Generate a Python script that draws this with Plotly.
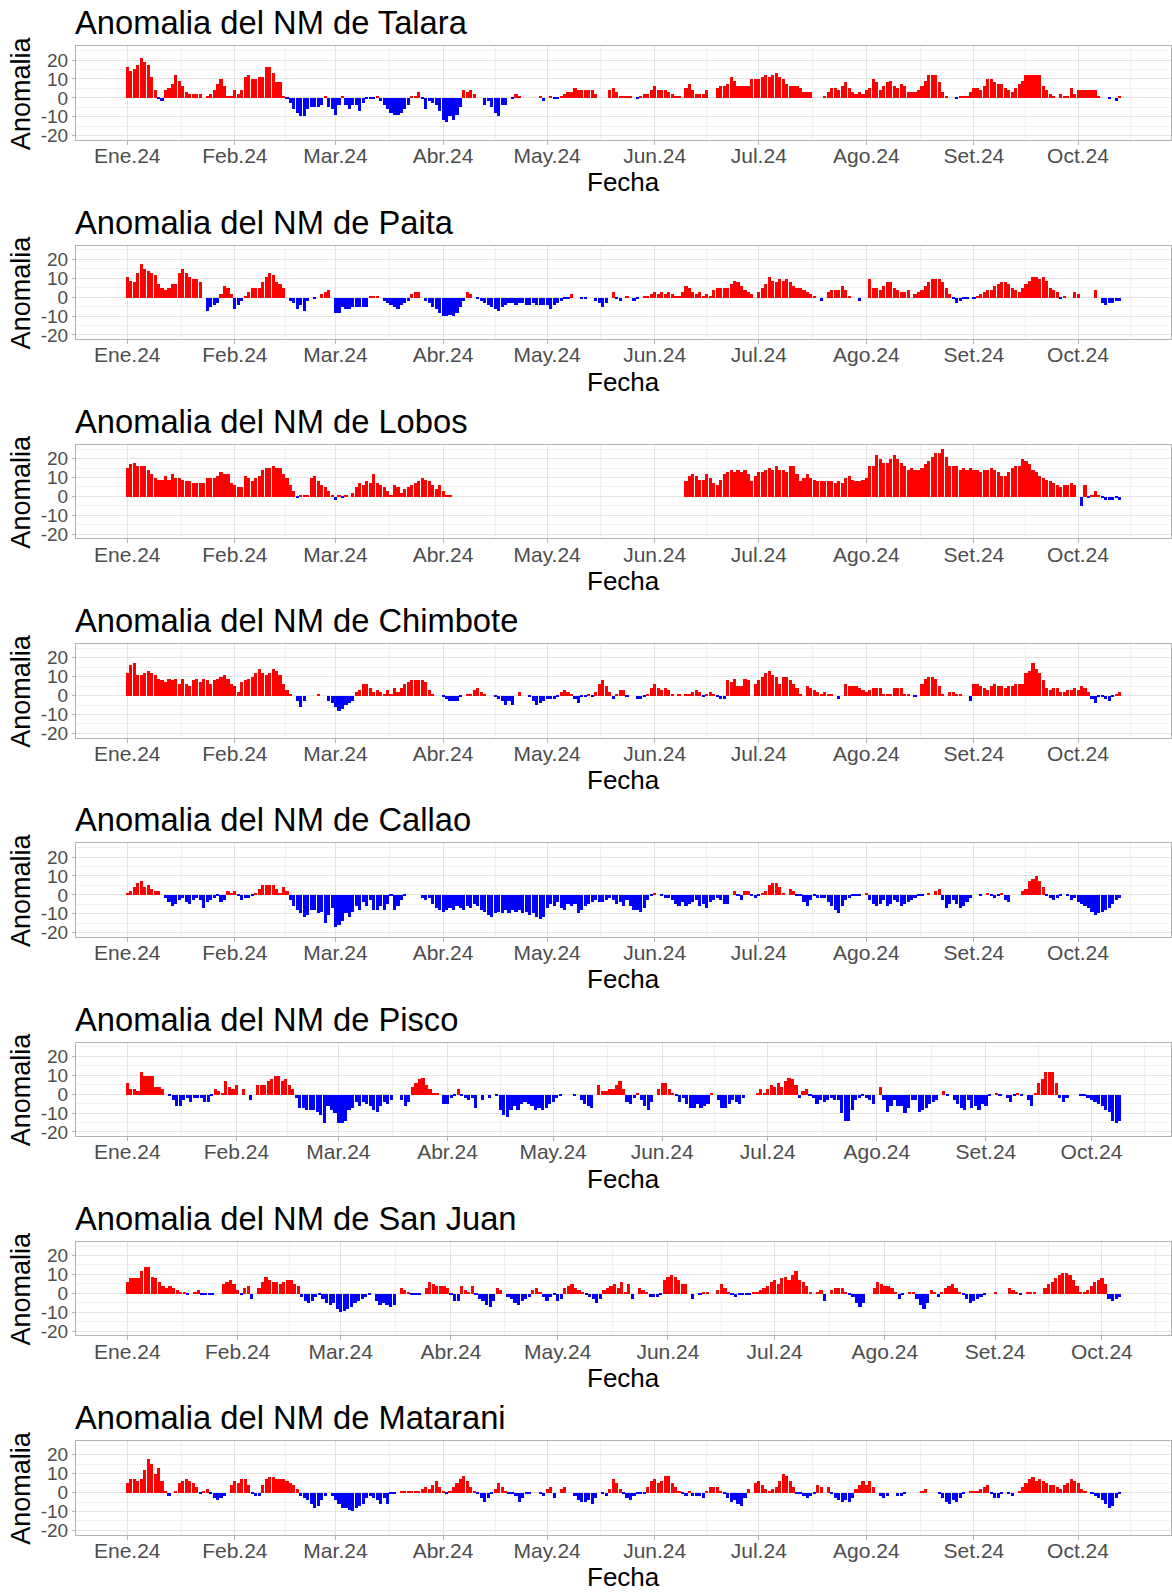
import plotly.graph_objects as go
import pandas as pd

# ---------------- data (daily sea-level anomaly, cm) ----------------
START = "2024-01-01"
stations = ["Talara", "Paita", "Lobos", "Chimbote", "Callao", "Pisco", "San Juan", "Matarani"]
n_days = [287, 287, 287, 287, 287, 283, 280, 287]
month_labels = ["Ene.24", "Feb.24", "Mar.24", "Abr.24", "May.24", "Jun.24",
                "Jul.24", "Ago.24", "Set.24", "Oct.24"]
month_starts = ["2024-01-01", "2024-02-01", "2024-03-01", "2024-04-01", "2024-05-01",
                "2024-06-01", "2024-07-01", "2024-08-01", "2024-09-01", "2024-10-01"]
y_ticks = [-20, -10, 0, 10, 20]
y_minor = [-15, -5, 5, 15, 25]
y_limits = [-20, 25]

# (first day index counted from 1 Jan 2024, consecutive daily values); gaps = missing days
talara = [
    (0, [16, 14, 15, 17, 21, 19, 17, 11, 4, -1, -2, 4, 5, 7, 12, 9, 6, 3, 2, 2, 2, 2]),
    (23, [1, 2, 4, 7, 10, 6, 1, 1, 4, 2, 4, 11, 12, 10, 10, 11, 11, 16, 16, 13, 8, 8, 1, -1, -3, -6, -8, -10, -10,
          -6, -5, -5, -5, -4, 1, -5, -6, -9, -4, 1, -4, -6, -4, -4, -7, -3, -1, -1, -1, 1, -2, -4, -6, -8, -9, -9,
          -8, -6, -4, 1, 1, 3, -1, -6, -2, -3, -4, -7, -12, -13, -10, -12, -9, -5, 4, 3, 4, 2]),
    (103, [-4, -2, -5, -8, -10, -4, -4]),
    (111, [-1, 2, 1]),
    (119, [1, -2]),
    (122, [1, -1, -1, 1, 2, 3, 3, 5, 4, 4, 4, 4, 4, 2]),
    (139, [4, 5, 3, 1, 1, 1, 1]),
    (147, [-1, 1, 2, 2, 4, 6, 4, 4, 4, 3, 2, 1, 1]),
    (161, [5, 7, 4, 2, 2, 2, 4]),
    (170, [5, 6, 6, 7, 11, 9, 6, 6, 6, 6, 10, 10, 10, 11, 12, 11, 12, 13, 11, 10, 7, 6, 6, 6, 5, 3, 3, 3]),
    (201, [1, 3, 5, 5, 4, 6, 8, 5, 3, 2, 3, 2, 4, 5, 10, 8, 4, 6, 8, 9, 6, 5, 7, 6, 3, 3, 3, 4, 6, 9, 12, 12, 12,
           8, 3, 1]),
    (239, [-1, 1, 1, 1, 3, 5, 5, 4, 6, 10, 10, 8, 7, 7, 5, 4, 3, 5, 7, 9, 12, 12, 12, 12, 12, 6, 4, 2, 1]),
    (269, [2, 1, 1, 5, 2, 4, 4, 4, 4, 4, 4, 1]),
    (283, [-1]),
    (285, [-2, 1]),
]
paita = [
    (0, [11, 9, 8, 13, 18, 15, 14, 13, 12, 7, 5, 4, 5, 7, 7, 13, 15, 13, 11, 10, 10, 8]),
    (23, [-7, -5, -4, -3, 2, 6, 5, 2, -6, -4, -2, 1, 3, 5, 5, 5, 8, 11, 13, 12, 8, 7, 5]),
    (47, [-2, -3, -6, -4, -7, -2]),
    (54, [-1]),
    (56, [2, 3, 4]),
    (60, [-8, -8, -5, -6, -6, -5, -5, -5, -5, -5, 1, 1, 1]),
    (74, [-2, -3, -4, -5, -6, -4, -3, -2, 2, 3, 3]),
    (86, [-2, -3, -5, -6, -8, -10, -10, -9, -10, -8, -5, -2, 3, 2]),
    (101, [-1, -2, -3, -4, -5, -6, -7, -5, -4, -3, -3, -4, -3, -3, -4, -4, -3, -4, -4, -4, -4, -6, -4, -3, -2,
           -1, -1, 2]),
    (131, [-1, -1]),
    (135, [-2, -3, -5, -3]),
    (140, [3, -1, -2]),
    (144, [1]),
    (146, [-2, -1]),
    (149, [1, 1, 2, 3, 2, 3, 2, 3, 2, 1, 1, 3, 6, 5, 3, 2, 3, 1, 2, 1, 4, 5, 5, 5, 5, 7, 9, 8, 6, 4, 3, 2]),
    (182, [3, 5, 7, 11, 9, 8, 10, 9, 10, 8, 6, 5, 5, 4, 3, 2, 1]),
    (200, [-2]),
    (202, [3, 4, 4, 4, 6, 4, 1]),
    (211, [-2]),
    (214, [10, 5, 5, 4, 6, 8, 8, 5, 4, 3, 3, 4]),
    (227, [2, 3, 4, 6, 8, 10, 10, 10, 8, 5, 2]),
    (238, [-1, -3, -2, -1, -1]),
    (244, [-1, 1, 2, 3, 4, 4, 6, 7, 8, 8, 7, 5, 4]),
    (257, [3, 5, 7, 9, 11, 11, 10, 11, 9, 5, 4, 3]),
    (269, [-1, 1]),
    (273, [3, 2]),
    (279, [4]),
    (281, [-3, -4, -3, -3, -2, -2]),
]
lobos = [
    (0, [15, 17, 18, 16, 16, 16, 14, 12, 10, 9, 9, 11, 9, 12, 10, 10, 9, 8, 8, 7, 7, 7, 7, 10, 10, 10, 11, 13, 12,
         12, 7, 6, 5, 5, 11, 10, 8, 10, 11, 14, 15, 15, 16, 15, 15, 12, 10, 6, 3, -1, 1, 1, 1, 10, 11, 8, 6, 5, 3,
         1, -2, 1, -1, 1]),
    (65, [2, 5, 7, 6, 8, 7, 12, 7, 6, 5, 3, 1, 6, 5, 2, 4, 5, 6, 7, 8, 10, 9, 8, 6, 4, 6, 3, 1, 1]),
    (161, [8, 11, 12, 11, 9, 9, 12, 10, 7, 6, 9, 12, 13, 14, 13, 14, 13, 14, 12, 8, 11, 13, 13, 14, 15, 14, 16,
           14, 14, 13, 16, 16, 12, 8, 10, 12, 10, 9, 8, 8, 8, 8, 8, 7, 8, 7, 10, 11, 9, 8, 8, 9, 10, 16, 16, 22,
           20, 18, 18, 20, 22, 20, 18, 16, 14, 15, 14, 14, 15, 17, 19, 21, 23, 23, 25, 21, 16, 16, 16, 14, 15,
           14, 15, 14, 14, 13, 14, 14, 15, 14, 13, 11, 11, 13, 15, 16, 16, 20, 19, 17, 14, 13, 11, 10, 9, 8, 7,
           6, 5, 6, 6, 7, 6]),
    (275, [-5, 6, -1, 1, 3, 1, -1, -2, -2, -2, -1, -2]),
]
chimbote = [
    (0, [12, 16, 17, 11, 11, 12, 13, 12, 11, 9, 8, 7, 9, 8, 9, 6, 9, 6, 5, 8, 9, 7, 9, 8, 6, 8, 9, 10, 11, 9, 6,
         5, 2, 7, 8, 9, 10, 12, 14, 12, 11, 12, 14, 13, 11, 6, 3, 1]),
    (49, [-3, -6, -3]),
    (55, [1]),
    (58, [-3, -4, -6, -8, -7, -5, -4, -3]),
    (66, [2, 3, 6, 6, 4, 2, 3, 2, 1, 3, 1, 4, 2]),
    (79, [4, 6, 7, 8, 8, 8, 8, 7, 3, 1]),
    (91, [-1, -2, -3, -3, -3, -1]),
    (98, [1, 1, 3, 4, 2, 1]),
    (106, [-1, -2, -3, -5, -3, -5]),
    (113, [2]),
    (116, [-1, -3, -5, -4, -3, -2, -2, -2, -1]),
    (125, [2, 3, 2, 1, -2, -4, -1, -1, 1, -1, 2, 6, 8, 5, 2, -2, 1, 3, 3, -1]),
    (147, [-2, -2, -1, 1, 4, 6, 4, 3, 4, 3, 1]),
    (159, [1]),
    (161, [1, 1, 2, 3, 2, -1, 1, 2, 1, -1, -2, -2, 8, 7, 9, 5, 5, 9, 8]),
    (181, [6, 8, 10, 12, 13, 11, 10, 6, 10, 10, 8, 6, 4, 1]),
    (196, [5, 4, 3, 2, 1, 2, 1, 1]),
    (205, [-2]),
    (207, [6, 5, 5, 5, 4, 3, 2, 3, 4, 4, 4, 1, 1, 1, 4, 4, 4, 1, 1]),
    (227, [-1]),
    (229, [6, 9, 10, 10, 9, 5, 1]),
    (237, [2, 2, 1, 1]),
    (243, [-3]),
    (244, [6, 6, 5, 4, 3, 5, 6, 5, 5, 4, 5, 5, 6, 6, 6, 12, 13, 17, 14, 12, 8, 4, 3, 4, 4, 2, 2, 3, 3, 4, 3, 5, 4,
           2, -2, -4, -1, -1, -2, -3, -1, 1, 2]),
]
callao = [
    (0, [1, 2, 4, 6, 7, 4, 5, 3, 2, 2]),
    (11, [-2, -4, -6, -5, -3, -2, -4, -5, -3, -2, -3, -7, -4, -3, -2, -1, -4, -3]),
    (29, [2, 1, 2, -1, -3, -2, -2, -1, 1, 3, 5, 5, 5, 5, 3, 1, 4, 2]),
    (47, [-3, -6, -8, -10, -12, -11, -8, -8, -10, -9, -15, -11, -7, -17, -16, -14, -10, -12, -9, -6, -8, -4, -6,
          -3, -8, -8, -6, -8, -5, -1, -8, -6, -3, -1]),
    (85, [-2, -3, -2, -5, -7, -8, -9, -8, -7, -8, -6, -7, -8, -6, -7, -5, -6, -8, -9, -11, -12, -10, -9, -10, -8,
          -10, -8, -9, -8, -10, -9, -11, -10, -12, -13, -12, -7, -5, -6, -4, -7, -8, -5, -6, -5, -10, -8, -6, -5,
          -4, -3, -4, -4, -3, -2, -3, -5, -4, -6, -3, -6, -8, -8, -9, -7, -3, -1]),
    (152, [1]),
    (154, [-1, -2, -2, -3, -5, -6, -4, -6, -5, -4, -3, -6, -5, -7, -4, -3, -2, -3, -5, -5]),
    (175, [2, -1, -3, 2, 2, -1, -2, -1]),
    (183, [1, 2, 5, 6, 6, 4, 1]),
    (191, [3, 2]),
    (193, [-1, -1, -4, -6, -3, -1, -2, -2, -2, -4, -6, -8, -10, -6, -3, -2, -1, -1, -1]),
    (213, [1]),
    (214, [-3, -5, -6, -5, -3, -6, -5, -3, -4, -6, -5, -4, -3, -2, -1, -1]),
    (231, [1, None, 2, 3]),
    (235, [-3, -7, -5, -3, -5, -7, -6, -4, -2]),
    (246, [-1, None, 1, -1, -2, -1, 1, -3, -4]),
    (258, [2, 3, 7, 8, 10, 7, 4]),
    (265, [-1, -2, -3, -2, -1]),
    (271, [-1, -3, -2, -4, -5, -6, -7, -9, -11, -10, -9, -8, -7, -5, -3, -2]),
]
pisco = [
    (0, [6, 3, 3, 2, 12, 10, 10, 10, 4, 4, 3]),
    (12, [-1, -3, -6, -6, -3, -2, -4, -2, -2, -2, -4, -4, -1]),
    (25, [3, 2, 1, 7, 4, 3, 5]),
    (33, [3]),
    (35, [-3]),
    (37, [5, 5, 5, 7, 8, 10, 10, 7, 8, 5, 3]),
    (48, [-2, -7, -7, -8, -8, -8, -9, -11, -15, -6, -8, -10, -15, -15, -14, -8, -7, -4, -6, -4, -5, -6, -8, -9,
          -6, -4, -5, -3]),
    (78, [-3, -6, -4]),
    (81, [4, 6, 8, 9, 5, 3, 1, 1]),
    (90, [-5, -5, -2, -1, 3, -1, -2, -3, -2, -7]),
    (101, [-3]),
    (103, [-2]),
    (105, [-1, -8, -11, -12, -8, -6, -8, -5, -4, -5, -6, -8, -7, -8, -7, -5, -4, -2, -1]),
    (127, [-1]),
    (129, [-3, -5, -6, -7]),
    (134, [5, 2, 2, 3, 3, 5, 7, 3]),
    (142, [-4, -5, -2, 1, -3, -6, -8, -4]),
    (151, [3, 6, 6, 3, 1]),
    (156, [-1, -4, -2, -5, -7, -7, -5, -7, -6, -5, 1]),
    (168, [-3, -7, -7, -5, -3, -4, -5, -2]),
    (179, [1, 3, 1, 3, 5, 4, 6, 4, 7, 9, 8, 5, -2, 2, 3]),
    (194, [-1, -2, -5, -3, -4, -3, -2, -3, -3, -10, -14, -14, -8, -3, -2, -1, -2, -3, -5]),
    (214, [4]),
    (215, [-3, -9, -6, -3, -6, -6, -10, -7, -3]),
    (224, [-3, -9, -8, -7, -5, -4, -3]),
    (232, [2, -1]),
    (235, [-3, -5, -7, -8, -3, -7, -6, -8, -5, -6, -1]),
    (247, [1, -1, None, -2, -4, -1, 1, -1, None, -3, -6, 1]),
    (259, [6, 8, 12, 12, 12, 6]),
    (265, [-2, -4, -2]),
    (271, [-1, -1, -2, -3, -4, -5, -6, -8, -9, -14, -15, -14]),
]
san_juan = [
    (0, [6, 8, 8, 8, 12, 14, 14, 9, 8, 6, 4, 3, 4, 3, 2, 1, 1, -1]),
    (19, [1, 2, -1, -1, -1, -1]),
    (27, [5, 6, 7, 5, 2, -1, 3, 4, -3]),
    (37, [3, 6, 9, 7, 6, 6, 5, 6, 7, 7, 5, 4]),
    (49, [-2, -4, -5, -4, -2, -1, -3, -5, -6, -5, -8, -10, -9, -8, -7, -5, -4, -3, -2, -1]),
    (70, [-4, -6, -5, -6, -7, -6]),
    (77, [3, 2, 1, -1, -1, -1]),
    (84, [3, 6, 5, 4, 4, 4, 3, -1, -4, -4, 4, 2, 1, 4, -1, -3, -4, -6, -7, -4, 3, 2]),
    (107, [-2, -3, -5, -6, -4, -3, -2, 2, 3, 1, -2, -4, -2, -1, -4, -3, 3, 4, 5, 3, 2, 1, -1, -2, -3, -5, -3, 2,
           3, 4, 5, 3, 6, 1, 5, -3]),
    (144, [3, 2, 1, -2, -2, -2, -1, 7, 9, 10, 9, 7, 5, 5]),
    (159, [-3]),
    (161, [-1, 1, 1]),
    (166, [2, 5, 3, 1, -1, -2, -1, -1, -1, -1, 1, 1, 2, 3, 4, 6, 7, 5, 8, 9, 7, 10, 12, 7, 6, 4, 1]),
    (194, [1, 2, -4]),
    (198, [2, 3, 3, 3, 1, -1, -2, -5, -7, -5]),
    (210, [3, 6, 5, 4, 4, 3, 1, -3, -1]),
    (220, [1, 1, -3, -6, -8, -5, 2, 1, -2, 1, 3, 4, 5, 3, 1, -1, -3, -5, -4, -3, -2, -1]),
    (244, [1]),
    (248, [3, 2, 1, -1]),
    (253, [1, 1, 1]),
    (258, [3, 5, 6, 8, 10, 11, 11, 10, 7, 4, 1]),
    (269, [1, 2, 4, 6, 7, 8, 5]),
    (276, [-3, -4, -3, -2]),
]
matarani = [
    (0, [5, 7, 7, 6, 7, 12, 18, 15, 10, 13, 6, 1, -2]),
    (14, [1, 5, 6, 7, 6, 5, 3]),
    (21, [-1, 1, 2, -1, -3, -4, -3, -2]),
    (30, [4, 6, 5, 7, 7, 4, -1, -2, -2]),
    (39, [4, 7, 8, 8, 7, 7, 7, 6, 5, 4, 2]),
    (50, [-2, -3, -4, -6, -8, -7, -4, -2]),
    (59, [-2, -4, -6, -8, -8, -9, -10, -8, -7, -6, -3, -2, -3, -4, -6, -3, -6, -1]),
    (77, [-1]),
    (79, [1, 1, 1, 1, 1, 1, 2, 3, 2, 4, 6, 3, 1, -1]),
    (93, [1, 3, 5, 7, 9, 6, 3, 1, -1, -3, -5, -3, -1, 2, 5, 3, 1, -1, -1, -2, -5, -3, -1, -1]),
    (119, [-1, -2, 2, 3, -3]),
    (125, [2, 3]),
    (129, [-2, -4, -5, -5, -4, -6, -3]),
    (137, [-1, -2, 2, 7, 5, 2, -1, -3, -4, -2, -1, -1, -1, 3, 6, 7, 5, 6, 9, 9, 5, 3, 1, -1, -2, 1, -2, -2, -2,
           -3, 1, 3, 3, 3, 1, -1, -3, -5, -4, -6, -7, -3, 2]),
    (181, [5, 6, 4, 2, 1, 2, 3, 6, 10, 9, 6, 3, -1, -1, -2, -3, -2, -1, 4, 3]),
    (202, [3, -1, -3, -4, -5, -4, -5, -3, 2, 4, 6, 4, 6, 3]),
    (217, [-2, -3, -2]),
    (222, [-2, -2, -1]),
    (229, [1, 2]),
    (234, [-1, -3, -5, -6, -4, -5, -3, -1]),
    (243, [1, 1, 1, 2, 3, 4, -1, -3, -3, -1]),
    (254, [-1, -2]),
    (257, [1, 3, 5, 7, 8, 6, 7, 6, 5, 4, 4, 3, 2, 4, 5, 7, 6, 5, 2, 1]),
    (278, [-1, -2, -3, -4, -6, -8, -7, -3, -1]),
]
all_segments = [talara, paita, lobos, chimbote, callao, pisco, san_juan, matarani]

# ---------------- layout constants (pixels) ----------------
W, H = 1172, 1596
PANEL_STEP = 200.0
PLOT_LEFT, PLOT_RIGHT = 76, 1172
PLOT_TOP, PLOT_BOTTOM = 46.5, 140.5
FONT = "Liberation Sans, Arial, Helvetica, sans-serif"
RED, BLUE = "#FF0000", "#0000FF"
BORDER = "#b3b3b3"
GRID_MAJOR = "#e3e3e3"
GRID_MINOR = "#f1f1f1"
TICK_TEXT = "#4d4d4d"

start = pd.Timestamp(START)
day = pd.Timedelta(days=1)
ms_starts = pd.to_datetime(month_starts)
# ggplot minor breaks: midpoints between major breaks (plus one on each side)
minor_x = []
prev = ms_starts[0] - (ms_starts[1] - ms_starts[0])
for a in list(ms_starts) + [ms_starts[-1] + (ms_starts[-1] - ms_starts[-2])]:
    minor_x.append(prev + (a - prev) / 2)
    prev = a

yexp = 0.05 * (y_limits[1] - y_limits[0])
y_range = [y_limits[0] - yexp, y_limits[1] + yexp]


def build(n, segs):
    vals = [None] * n
    for s0, seg in segs:
        for i, v in enumerate(seg):
            if s0 + i < n:
                vals[s0 + i] = v
    return vals


fig = go.Figure()
annotations = []
for k, (name, segs, n) in enumerate(zip(stations, all_segments, n_days)):
    vals = build(n, segs)
    dates = [start + i * day for i in range(n)]
    colors = [RED if (v is not None and v >= 0) else BLUE for v in vals]
    ax = "" if k == 0 else str(k + 1)
    fig.add_trace(go.Bar(
        x=dates, y=vals, marker=dict(color=colors, line=dict(width=0)),
        width=0.9 * 86400000, xaxis="x" + ax, yaxis="y" + ax, showlegend=False,
        hoverinfo="x+y"))

    last = max(i for i, v in enumerate(vals) if v is not None)
    lo, hi = -0.45, last + 0.45
    span = hi - lo
    xr = [start + pd.Timedelta(days=lo - 0.05 * span), start + pd.Timedelta(days=hi + 0.05 * span)]

    off = PANEL_STEP * k
    top = PLOT_TOP + off
    bot = PLOT_BOTTOM + off
    fig.update_layout(**{
        "xaxis" + ax: dict(
            domain=[PLOT_LEFT / W, PLOT_RIGHT / W], anchor="y" + ax, type="date", range=xr,
            tickmode="array", tickvals=list(ms_starts), ticktext=month_labels,
            ticks="outside", ticklen=4, tickcolor=BORDER, tickwidth=1, ticklabelstandoff=-7,
            tickfont=dict(size=21, color=TICK_TEXT, family=FONT),
            showgrid=True, gridcolor=GRID_MAJOR, gridwidth=1,
            minor=dict(tickvals=minor_x, showgrid=True, gridcolor=GRID_MINOR, gridwidth=1, ticks=""),
            showline=True, mirror=True, linecolor=BORDER, linewidth=1, zeroline=False,
        ),
        "yaxis" + ax: dict(
            domain=[1 - bot / H, 1 - top / H], anchor="x" + ax, range=y_range,
            tickmode="array", tickvals=y_ticks, ticktext=[str(t) for t in y_ticks],
            ticks="outside", ticklen=3, tickcolor=BORDER, tickwidth=1,
            tickfont=dict(size=19, color=TICK_TEXT, family=FONT),
            showgrid=True, gridcolor=GRID_MAJOR, gridwidth=1,
            minor=dict(tickvals=y_minor, showgrid=True, gridcolor=GRID_MINOR, gridwidth=1, ticks=""),
            showline=True, mirror=True, linecolor=BORDER, linewidth=1, zeroline=False,
        ),
    })
    annotations.append(dict(
        text="Anomalia del NM de " + name, x=73 / W, y=1 - (23 + off) / H,
        xref="paper", yref="paper", xanchor="left", yanchor="middle", showarrow=False,
        font=dict(size=32.7, color="black", family=FONT)))
    annotations.append(dict(
        text="Fecha", x=((PLOT_LEFT + PLOT_RIGHT) / 2) / W, y=1 - (183 + off) / H,
        xref="paper", yref="paper", xanchor="center", yanchor="middle", showarrow=False,
        font=dict(size=26, color="black", family=FONT)))
    annotations.append(dict(
        text="Anomalia", x=21 / W, y=1 - (93.5 + off) / H, textangle=-90,
        xref="paper", yref="paper", xanchor="center", yanchor="middle", showarrow=False,
        font=dict(size=27, color="black", family=FONT)))

fig.update_layout(
    width=W, height=H, margin=dict(l=0, r=0, t=0, b=0),
    paper_bgcolor="white", plot_bgcolor="white",
    bargap=0, annotations=annotations, font=dict(family=FONT),
)
fig.write_html("out.html")
